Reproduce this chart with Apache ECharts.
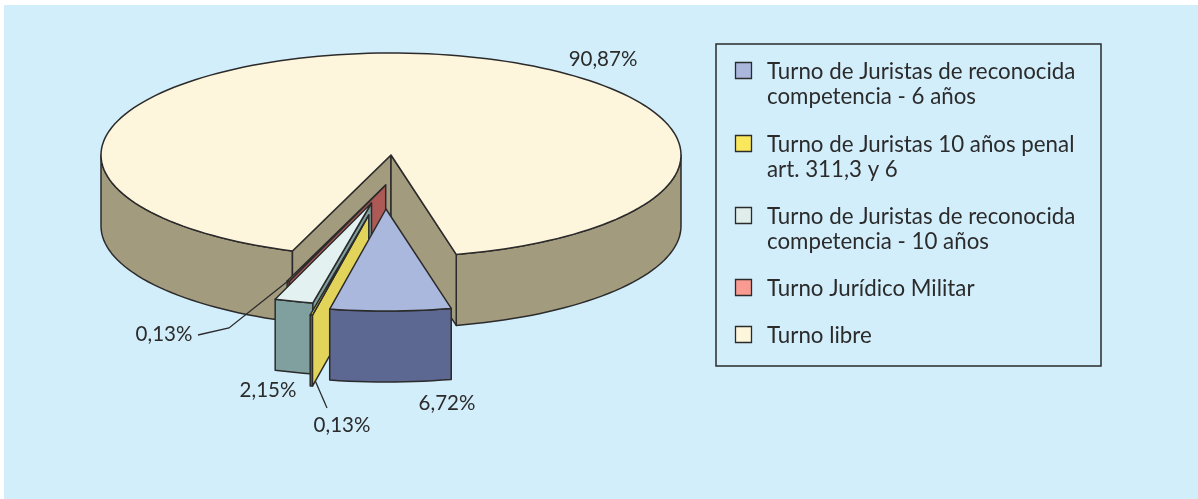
<!DOCTYPE html>
<html><head><meta charset="utf-8">
<style>html,body{margin:0;padding:0;background:#fff}#c{width:1198px;height:499px}</style>
<script src="https://cdn.jsdelivr.net/npm/echarts@6/dist/echarts.min.js"></script>
</head><body><div id="c"></div>
<script>
// ---- data ----
const sliceNames = ['Turno de Juristas de reconocida competencia - 6 años','Turno de Juristas 10 años penal art. 311,3 y 6','Turno de Juristas de reconocida competencia - 10 años','Turno Jurídico Militar','Turno libre'];
const sliceValues = [6.72, 0.13, 2.15, 0.13, 90.87];
const valueLabels = ['6,72%','0,13%','2,15%','0,13%','90,87%'];
const legendLines = [['Turno de Juristas de reconocida','competencia - 6 años'],['Turno de Juristas 10 años penal','art. 311,3 y 6'],['Turno de Juristas de reconocida','competencia - 10 años'],['Turno Jurídico Militar'],['Turno libre']];
// ---- style ----
const topColors = ['#aab8dd','#f3e25a','#e3f2f1','#ee8f86','#fdf5dc'];
const sideColors = ['#5c6792','#8a7c3c','#7fa09e','#ad5a56','#a39b7e'];
const wallColors = ['#5c6792','#e2d45a','#7fa09e','#ad5a56','#a39b7e'];
const legendColors = ['#aab6dc','#fbe75c','#dfeeea','#f99b90','#fdf5dc'];
const INK = '#2b2b2b', FONT = 'Lato';
// ---- layout ----
const center = [391,155], RX = 290, RY = 102, DEPTH = 71, START = 77;
const explode = [[-5,54],[-22.2,60],[-19.5,48],[-5.3,30],[0,0]];
const labelPos = [[447,403],[342,425],[268,390],[164,334],[603,59]];
const leaders = [null,{z:1,points:[[314,378],[327,408]]},null,{z:4,points:[[288,281],[229,328],[198,335]]},null];
const legendBox = {x:716,y:44,w:385,h:322}, legendRowY=[71,144,216,288,335], legendLH=24.5, legendTextDy=1;

const total = sliceValues.reduce((a,b)=>a+b,0);
const rad = d=>d*Math.PI/180;
function arcPts(cx,cy,a,b,dy){const n=Math.max(2,Math.ceil(Math.abs(b-a)/2));const p=[];for(let i=0;i<=n;i++){const t=rad(a+(b-a)*i/n);p.push([cx+RX*Math.cos(t),cy+RY*Math.sin(t)+dy]);}return p;}
function poly(points,fill,z2){return {type:'polygon',z2,shape:{points},style:{fill,stroke:INK,lineWidth:1.5,lineJoin:'round'}};}

function renderSlice(params,api){
  const i=params.dataIndex, v=api.value(0);
  let before=0; for(let k=0;k<i;k++) before+=sliceValues[k];
  const a0=START+before/total*360, a1=a0+v/total*360;
  const cx=center[0]+explode[i][0], cy=center[1]+explode[i][1];
  const kids=[], base=(sliceValues.length-i)*10;
  const ranges=[];
  for(let s=0;s<=360;s+=360){const l=Math.max(a0,s),h=Math.min(a1,s+180);if(h>l)ranges.push([l,h]);}
  ranges.forEach(r=>{const top=arcPts(cx,cy,r[0],r[1],0),bot=arcPts(cx,cy,r[1],r[0],DEPTH);kids.push(poly(top.concat(bot),sideColors[i],base));});
  const wall=(a)=>{const t=rad(a),x=cx+RX*Math.cos(t),y=cy+RY*Math.sin(t);return [[cx,cy],[x,y],[x,y+DEPTH],[cx,cy+DEPTH]];};
  if(Math.sin(rad(a0-90))>0) kids.push(poly(wall(a0),wallColors[i],base+1));
  if(Math.sin(rad(a1+90))>0) kids.push(poly(wall(a1),wallColors[i],base+1));
  kids.push(poly([[cx,cy]].concat(arcPts(cx,cy,a0,a1,0)),topColors[i],base+2));
  return {type:'group',children:kids};
}

const g=[];
g.push({type:'rect',silent:true,z:0,shape:{x:4,y:5,width:1194,height:494},style:{fill:'#d2eefb'}});
leaders.forEach(l=>{if(l)g.push({type:'polyline',z:l.z,shape:{points:l.points},style:{fill:null,stroke:INK,lineWidth:1.3}});});
valueLabels.forEach((t,i)=>g.push({type:'text',z:5,x:labelPos[i][0],y:labelPos[i][1],style:{text:t,font:'20.5px '+FONT,fill:INK,align:'center',verticalAlign:'middle'}}));
g.push({type:'rect',z:5,shape:{x:legendBox.x,y:legendBox.y,width:legendBox.w,height:legendBox.h},style:{fill:'none',stroke:INK,lineWidth:1.5}});
legendLines.forEach((lines,i)=>{
  const y=legendRowY[i];
  g.push({type:'rect',z:5,shape:{x:735.5,y:y-8.5,width:16,height:16},style:{fill:legendColors[i],stroke:INK,lineWidth:1.3}});
  lines.forEach((t,j)=>g.push({type:'text',z:5,x:767,y:y+legendTextDy+j*legendLH,style:{text:t,font:'22.3px '+FONT,fill:INK,align:'left',verticalAlign:'middle'}}));
});

const chart=echarts.init(document.getElementById('c'),null,{renderer:'canvas'});
chart.setOption({
  animation:false,
  backgroundColor:'#ffffff',
  graphic:{elements:g},
  series:[{type:'custom',coordinateSystem:'none',z:3,renderItem:renderSlice,
    data:sliceValues.map((v,i)=>({name:sliceNames[i],value:[v]}))}]
});
</script></body></html>
